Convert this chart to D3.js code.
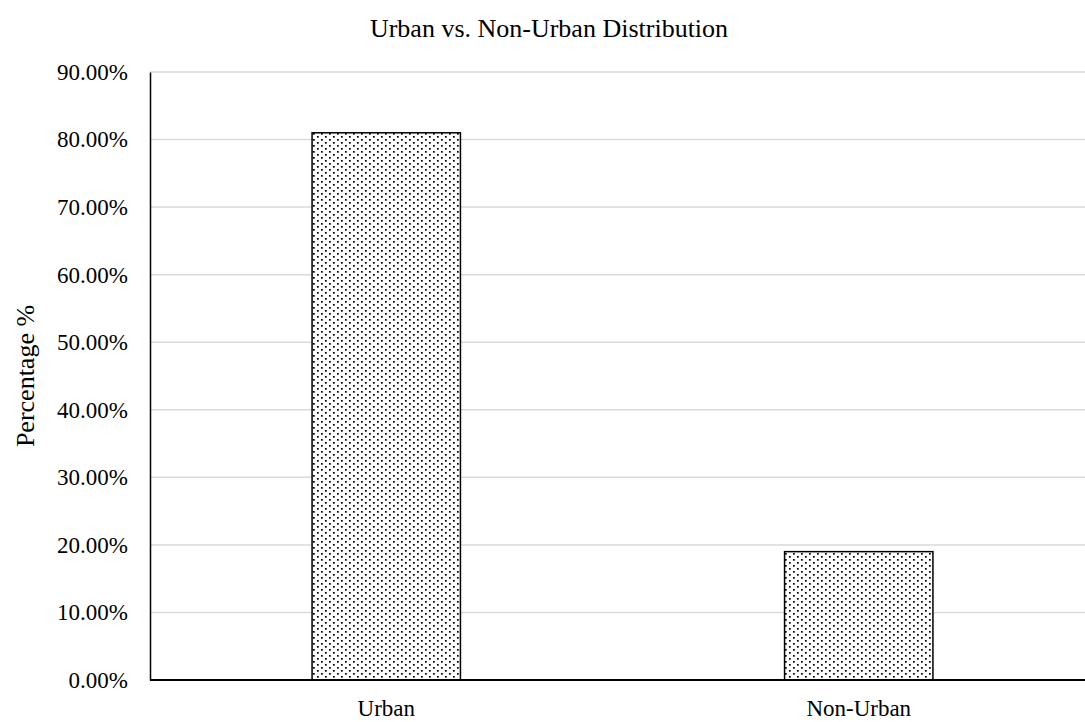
<!DOCTYPE html>
<head>
<meta charset="UTF-8">
<title>Urban vs. Non-Urban Distribution</title>
<script type="text/javascript" src="https://cdnjs.cloudflare.com/ajax/libs/d3/7.8.5/d3.min.js"></script>
<style>
body { margin:0; background:#fff; }
text { font-family:"Liberation Serif","Times New Roman",serif; fill:#000; }
.tick text { font-size:23px; }
.title { font-size:26px; }
.ylabel { font-size:26px; }
</style>
</head>
<body>
<div id="chart"></div>
<script type="text/javascript">
// data
var categories = ["Urban", "Non-Urban"];
var values = [81.0, 19.0];
var yTicks = [0, 10, 20, 30, 40, 50, 60, 70, 80, 90];

var width = 1085, height = 722;
var plotLeft = 150, plotRight = 1095, plotTop = 72, plotBottom = 680;

var svg = d3.select("#chart").append("svg").attr("width", width).attr("height", height);

// dotted fill like the office pattern
var defs = svg.append("defs");
var pat = defs.append("pattern").attr("id", "dots").attr("patternUnits", "userSpaceOnUse")
  .attr("width", 8).attr("height", 6);
pat.append("rect").attr("width", 8).attr("height", 6).attr("fill", "#fff");
pat.append("rect").attr("x", 1).attr("y", 1).attr("width", 1.7).attr("height", 1.7).attr("fill", "#000");
pat.append("rect").attr("x", 5).attr("y", 4).attr("width", 1.7).attr("height", 1.7).attr("fill", "#000");

var x = d3.scaleBand().domain(categories).range([plotLeft, plotRight]).paddingInner(0.686).paddingOuter(0.343);
var y = d3.scaleLinear().domain([0, 90]).range([plotBottom, plotTop]);

// gridlines
svg.append("g").selectAll("line").data(yTicks.slice(1)).enter().append("line")
  .attr("x1", plotLeft).attr("x2", width)
  .attr("y1", function(d){ return y(d); }).attr("y2", function(d){ return y(d); })
  .attr("stroke", "#d9d9d9").attr("stroke-width", 1.5);

// bars
svg.append("g").selectAll("rect").data(values).enter().append("rect")
  .attr("x", function(d, i){ return x(categories[i]); })
  .attr("y", function(d){ return y(d); })
  .attr("width", x.bandwidth())
  .attr("height", function(d){ return plotBottom - y(d); })
  .attr("fill", "url(#dots)").attr("stroke", "#000").attr("stroke-width", 1.5);

// y axis
var yAxis = svg.append("g").attr("transform", "translate(" + plotLeft + ",0)")
  .call(d3.axisLeft(y).tickValues(yTicks).tickSize(0).tickPadding(22)
    .tickFormat(function(d){ return d.toFixed(2) + "%"; }));
yAxis.select(".domain").attr("stroke", "#000").attr("stroke-width", 1.5);

// x axis
var xAxis = svg.append("g").attr("transform", "translate(0," + plotBottom + ")")
  .call(d3.axisBottom(x).tickSize(0).tickPadding(20));
xAxis.select(".domain").remove();
svg.append("line").attr("x1", plotLeft).attr("x2", width).attr("y1", plotBottom).attr("y2", plotBottom)
  .attr("stroke", "#000").attr("stroke-width", 2);

svg.append("text").attr("class", "title").attr("x", 549).attr("y", 37)
  .attr("text-anchor", "middle").text("Urban vs. Non-Urban Distribution");

svg.append("text").attr("class", "ylabel")
  .attr("transform", "translate(34," + ((plotTop + plotBottom) / 2) + ") rotate(-90)")
  .attr("text-anchor", "middle").text("Percentage %");
</script>
</body>
</html>
